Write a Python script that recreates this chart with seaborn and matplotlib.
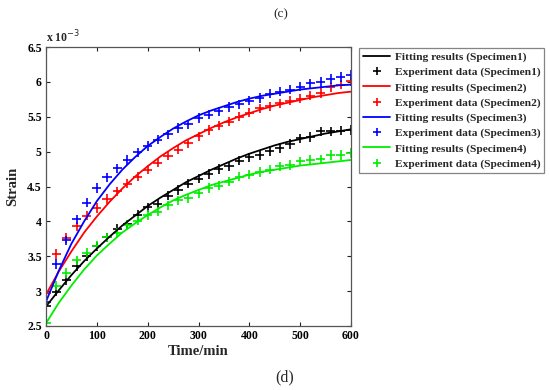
import numpy as np
import pandas as pd
import seaborn as sns
import matplotlib
matplotlib.use("Agg")
import matplotlib.pyplot as plt
from matplotlib.lines import Line2D

# ---- data (strain in units of 1e-3) ----
t_exp = list(range(0, 601, 20))
exp_s1 = [2.78, 2.99, 3.16, 3.36, 3.50, 3.64, 3.77, 3.89, 3.96, 4.09, 4.20, 4.25, 4.37, 4.45, 4.54, 4.61,
          4.68, 4.75, 4.79, 4.87, 4.92, 4.95, 5.01, 5.05, 5.11, 5.19, 5.21, 5.29, 5.29, 5.30, 5.31]
exp_s2 = [2.98, 3.53, 3.76, 3.93, 4.08, 4.19, 4.32, 4.43, 4.54, 4.64, 4.74, 4.84, 4.94, 5.03, 5.12, 5.22,
          5.31, 5.37, 5.43, 5.50, 5.56, 5.62, 5.65, 5.69, 5.73, 5.76, 5.80, 5.84, 5.92, 5.96, 6.01]
exp_s3 = [2.85, 3.39, 3.73, 4.03, 4.27, 4.48, 4.63, 4.76, 4.88, 4.99, 5.08, 5.17, 5.25, 5.34, 5.39, 5.48,
          5.53, 5.58, 5.64, 5.68, 5.73, 5.77, 5.83, 5.86, 5.89, 5.93, 5.98, 6.00, 6.04, 6.07, 6.10]
exp_s4 = [2.54, 3.08, 3.26, 3.44, 3.55, 3.65, 3.77, 3.84, 3.95, 4.01, 4.09, 4.14, 4.23, 4.30, 4.33, 4.40,
          4.48, 4.51, 4.57, 4.64, 4.67, 4.71, 4.74, 4.79, 4.81, 4.86, 4.88, 4.89, 4.95, 4.95, 4.98]

t_fit = list(range(0, 601, 25))
fit_s1 = [2.78, 3.01, 3.23, 3.43, 3.61, 3.78, 3.94, 4.08, 4.22, 4.34, 4.45, 4.56, 4.65, 4.74, 4.82, 4.90,
          4.97, 5.03, 5.09, 5.14, 5.18, 5.22, 5.26, 5.29, 5.32]
fit_s2 = [2.95, 3.28, 3.57, 3.84, 4.07, 4.28, 4.47, 4.64, 4.79, 4.93, 5.05, 5.16, 5.25, 5.34, 5.42, 5.49,
          5.55, 5.61, 5.66, 5.70, 5.74, 5.78, 5.81, 5.84, 5.86]
fit_s3 = [2.85, 3.29, 3.68, 4.00, 4.29, 4.53, 4.74, 4.92, 5.08, 5.21, 5.33, 5.43, 5.52, 5.59, 5.65, 5.71,
          5.76, 5.80, 5.83, 5.86, 5.89, 5.91, 5.93, 5.95, 5.96]
fit_s4 = [2.54, 2.83, 3.08, 3.31, 3.51, 3.68, 3.84, 3.97, 4.09, 4.20, 4.30, 4.38, 4.45, 4.52, 4.57, 4.62,
          4.67, 4.71, 4.74, 4.77, 4.80, 4.82, 4.84, 4.86, 4.88]

specimens = ["Specimen1", "Specimen2", "Specimen3", "Specimen4"]
colors = ["#000000", "#ff0000", "#0000ff", "#00ee00"]
x_ticks = [0, 100, 200, 300, 400, 500, 600]
y_ticks = [2.5, 3, 3.5, 4, 4.5, 5, 5.5, 6, 6.5]

sns.set_style("white")
plt.rcParams['font.family'] = ['Liberation Serif', 'DejaVu Serif']

fit_df = pd.concat([pd.DataFrame({"t": t_fit, "v": v, "s": s})
                    for v, s in zip([fit_s1, fit_s2, fit_s3, fit_s4], specimens)])
exp_df = pd.concat([pd.DataFrame({"t": t_exp, "v": v, "s": s})
                    for v, s in zip([exp_s1, exp_s2, exp_s3, exp_s4], specimens)])
pal = dict(zip(specimens, colors))

fig = plt.figure(figsize=(5.5, 3.9), dpi=100)
ax = fig.add_axes([46/550, 1-326/390, 305/550, 279/390])

sns.lineplot(data=fit_df, x="t", y="v", hue="s", palette=pal, ax=ax, lw=1.3, legend=False)
sns.scatterplot(data=exp_df, x="t", y="v", hue="s", palette=pal, ax=ax, marker="+",
                s=45, linewidth=1.2, legend=False)

ax.set_xlim(0, 600)
ax.set_ylim(2.5, 6.5)
ax.set_xticks(x_ticks)
ax.set_yticks(y_ticks)
ax.set_xticklabels([str(x) for x in x_ticks], fontsize=8.5, fontweight="bold")
ax.set_yticklabels([f"{y:g}" for y in y_ticks], fontsize=8.5, fontweight="bold")
ax.tick_params(direction="in", length=3, width=0.8, top=True, right=True, pad=3,
               bottom=True, left=True, colors="#222222", labelcolor="black")
for sp in ax.spines.values():
    sp.set_color("#555555")
    sp.set_linewidth(0.9)
ax.set_xlabel("Time/min", fontsize=10.5, fontweight="bold", labelpad=2)
ax.set_ylabel("Strain", fontsize=10.5, fontweight="bold", labelpad=6)
ax.text(0.0, 1.005, r"x 10$^{-3}$", transform=ax.transAxes, fontsize=8.5,
        fontweight="bold", ha="left", va="bottom")

handles = []
labels = []
for s, c in zip(specimens, colors):
    handles.append(Line2D([], [], color=c, lw=1.3))
    labels.append(f"Fitting results ({s})")
    handles.append(Line2D([], [], color=c, lw=0, marker="+", markersize=6, mew=1.2))
    labels.append(f"Experiment data ({s})")
leg = fig.legend(handles, labels, loc="upper left", bbox_to_anchor=(359/550, 1-48/390),
                 prop={"family": "Liberation Serif", "weight": "bold", "size": 8.2},
                 frameon=True, fancybox=False, edgecolor="#666666", handlelength=2.4,
                 handletextpad=0.4, labelspacing=0.44, borderpad=0.35, borderaxespad=0)
leg.get_frame().set_linewidth(0.9)

fig.text(281/550, 1-14/390, "(c)", ha="center", va="center", fontsize=9.5)
fig.text(285/550, 1-377/390, "(d)", ha="center", va="center", fontsize=11.5)

fig.savefig("out.png", dpi=100)
